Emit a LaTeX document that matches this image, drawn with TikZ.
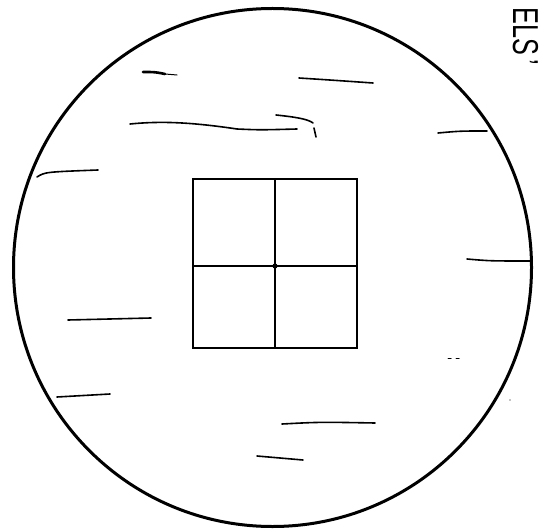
\documentclass[tikz,border=0pt]{standalone}
\usepackage{fontspec}
\setsansfont{Liberation Sans}
\begin{document}
\begin{tikzpicture}[x=1pt,y=-1pt,
  rim/.style={line width=3pt},
  gridline/.style={line width=2.8pt},
  streak/.style={line width=1.6pt, line cap=round},
  vlabel/.style={font=\sffamily\fontsize{36}{36}\selectfont, inner sep=0pt, rotate=-90}]
\useasboundingbox (0,0) rectangle (540,529);
% outer circle
\coordinate (c) at (272.5,267.5);
\draw[rim] (c) circle [radius=259pt];
% window square
\coordinate (tl) at (193,179);
\coordinate (br) at (357,348);
\coordinate (tm) at (275,179);
\coordinate (bm) at (275,348);
\coordinate (ml) at (193,266);
\coordinate (mr) at (357,266);
\draw[gridline] (tl) rectangle (br);
\draw[gridline] (tm) -- (bm);
\draw[gridline] (ml) -- (mr);
\fill (275,266) circle [radius=2.6pt];
% streaks
\draw[streak, line width=2.6pt] (143,72) .. controls (155,72) .. (165,74);
\draw[streak, line width=1pt] (165,74) -- (177,75);
\draw[streak] (299,78) .. controls (330,80) .. (373,83);
\draw[streak] (130,124) .. controls (160,121) and (190,122) .. (237,129) .. controls (260,130) .. (297,129);
\draw[streak] (276,115) .. controls (295,117) and (308,119) .. (313,123);
\draw[streak] (314,128) -- (316,137);
\draw[streak] (37,177) .. controls (45,172) .. (98,170);
\draw[streak] (68,320) -- (151,318);
\draw[streak] (57,397) -- (110,394);
\draw[streak] (438,133) .. controls (460,131) .. (487,131);
\draw[streak] (467,259) .. controls (490,261) .. (532,261);
\draw[streak, line width=1pt] (448,358) -- (451,358);
\draw[streak, line width=1pt] (456,358) -- (459,358);
\fill (510,400) circle [radius=0.6pt];
\draw[streak] (282,424) .. controls (320,422) .. (375,423);
\draw[streak] (257,456) .. controls (280,458) .. (303,460);
% label
\node[vlabel, anchor=base west] (lbl) at (513,7) {\scalebox{0.7}[1]{ELS\hspace{6pt}'}};
\end{tikzpicture}
\end{document}
